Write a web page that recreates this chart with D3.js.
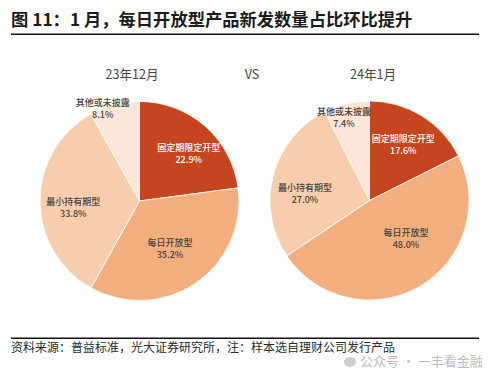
<!DOCTYPE html>
<html>
<head>
<meta charset="utf-8">
<script src="https://cdn.jsdelivr.net/npm/d3@7"></script>
<style>
html, body { margin: 0; padding: 0; background: #fff; }
text { font-family: "Noto Sans CJK SC", sans-serif; }
</style>
</head>
<body>
<div id="chart"></div>
<script>
var width = 500;
var height = 371;

var categories = ["固定期限定开型", "每日开放型", "最小持有期型", "其他或未披露"];
var colors = ["#c5451f", "#f3ae7f", "#f8cdae", "#fce6d9"];
var textColors = ["#ffffff", "#4a4038", "#4a4038", "#4a4038"];

var dec23Values = [22.9, 35.2, 33.8, 8.1];
var jan24Values = [17.6, 48.0, 27.0, 7.4];

// label centres
var dec23Labels = [[188.7, 154], [170, 248.7], [73.3, 207.7], [102.7, 108.7]];
var jan24Labels = [[403.3, 144.7], [406, 239.3], [305, 193.7], [344, 117.7]];

var titleText = "图 11：1 月，每日开放型产品新发数量占比环比提升";
var sourceText = "资料来源：普益标准，光大证券研究所，注：样本选自理财公司发行产品";
var markText = "公众号 · 一丰看金融";

var svg = d3.select("#chart")
    .append("svg")
    .attr("width", width)
    .attr("height", height);

svg.append("text")
    .attr("x", 11)
    .attr("y", 26)
    .attr("font-size", 17.3)
    .attr("font-weight", 700)
    .attr("fill", "#1c1c1c")
    .text(titleText);

svg.append("rect").attr("x", 11).attr("y", 33.5).attr("width", 468).attr("height", 1.5).attr("fill", "#111");
svg.append("rect").attr("x", 11).attr("y", 337.5).attr("width", 468).attr("height", 1.5).attr("fill", "#111");

svg.append("text")
    .attr("x", 11)
    .attr("y", 352)
    .attr("font-size", 12)
    .attr("fill", "#2a2a2a")
    .text(sourceText);

svg.append("ellipse").attr("cx", 350).attr("cy", 362).attr("rx", 6).attr("ry", 5).attr("fill", "#cfcfcf");
svg.append("text")
    .attr("x", 360)
    .attr("y", 366)
    .attr("font-size", 13)
    .attr("fill", "#bdbdbd")
    .text(markText);

[["23年12月", 132], ["VS", 252], ["24年1月", 373]].forEach(function(h) {
    svg.append("text")
        .attr("x", h[1])
        .attr("y", 79)
        .attr("text-anchor", "middle")
        .attr("font-size", 12.6)
        .attr("fill", "#444")
        .text(h[0]);
});

var pie = d3.pie().sort(null);

function drawPie(values, cx, cy, r, labels) {
    var arc = d3.arc().innerRadius(0).outerRadius(r);
    var g = svg.append("g").attr("transform", "translate(" + cx + "," + cy + ")");

    g.selectAll("path")
        .data(pie(values))
        .enter()
        .append("path")
        .attr("d", arc)
        .attr("fill", function(d, i) { return colors[i]; })
        .attr("stroke", "#fff")
        .attr("stroke-width", 0.8);

    var lab = svg.append("g")
        .selectAll("g")
        .data(values)
        .enter()
        .append("g")
        .attr("transform", function(d, i) { return "translate(" + labels[i][0] + "," + labels[i][1] + ")"; })
        .attr("text-anchor", "middle")
        .attr("font-size", 9)
        .attr("font-weight", 500)
        .attr("fill", function(d, i) { return textColors[i]; });

    lab.append("text")
        .attr("y", -3)
        .text(function(d, i) { return categories[i]; });
    lab.append("text")
        .attr("y", 9)
        .text(function(d) { return d.toFixed(1) + "%"; });
}

drawPie(dec23Values, 139.5, 201, 99.5, dec23Labels);
drawPie(jan24Values, 369.5, 200.5, 99.5, jan24Labels);
</script>
</body>
</html>
